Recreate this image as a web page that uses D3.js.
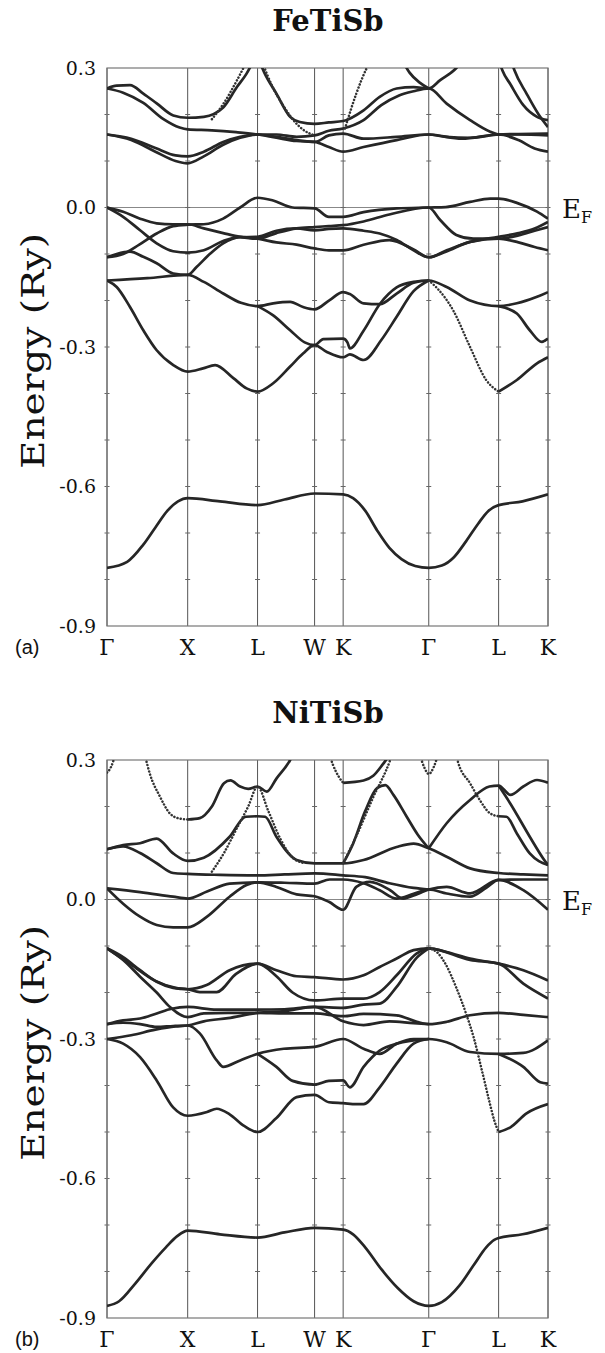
<!DOCTYPE html>
<html><head><meta charset="utf-8">
<script src="https://cdn.jsdelivr.net/npm/d3@7/dist/d3.min.js"></script>
<style>body{margin:0;background:#fff}</style>
</head><body>
<svg id="c" width="605" height="1353"></svg>
<script>
// ---------- axis data ----------
const kTicks = [0, 1, 1.866, 2.573, 2.927, 3.988, 4.854, 5.466];
const kLabels = ["Γ","X","L","W","K","Γ","L","K"];
const eTicks = [0.3, 0.0, -0.3, -0.6, -0.9];
const eTickLabels = ["0.3","0.0","-0.3","-0.6","-0.9"];
const minorTicks = [-0.8,-0.7,-0.6,-0.5,-0.4,-0.3,-0.2,-0.1,0.0,0.1,0.2];
const panelTitles = ["FeTiSb","NiTiSb"];
const panelTags = ["(a)","(b)"];

// ---------- FeTiSb bands [k, E(Ry)] ----------
const feSolid = [
 [[0,-0.775],[0.25,-0.762],[0.45,-0.725],[0.6,-0.688],[0.75,-0.652],[0.88,-0.632],[1,-0.625],[1.4,-0.632],[1.866,-0.64],[2.2,-0.628],[2.573,-0.615],[2.927,-0.617],[3.05,-0.625],[3.2,-0.652],[3.35,-0.695],[3.5,-0.732],[3.65,-0.756],[3.82,-0.771],[3.988,-0.775],[4.15,-0.77],[4.3,-0.752],[4.45,-0.718],[4.6,-0.68],[4.73,-0.652],[4.854,-0.64],[5.15,-0.632],[5.466,-0.617]],
 [[0,-0.157],[0.12,-0.171],[0.285,-0.214],[0.45,-0.264],[0.616,-0.307],[0.822,-0.339],[1,-0.353],[1.19,-0.346],[1.34,-0.339],[1.566,-0.367],[1.73,-0.389],[1.866,-0.396],[2.06,-0.378],[2.27,-0.342],[2.43,-0.314],[2.573,-0.296],[2.72,-0.31],[2.927,-0.322],[3.01,-0.316],[3.18,-0.328],[3.4,-0.285],[3.59,-0.235],[3.8,-0.18],[3.988,-0.157]],
 [[4.854,-0.396],[5.08,-0.371],[5.33,-0.335],[5.466,-0.322]],
 [[0,-0.157],[0.5,-0.152],[1,-0.145],[1.2,-0.16],[1.44,-0.185],[1.66,-0.205],[1.866,-0.212],[2.06,-0.206],[2.27,-0.203],[2.43,-0.214],[2.573,-0.219],[2.76,-0.199],[2.927,-0.182],[3.01,-0.186],[3.18,-0.206],[3.38,-0.208],[3.59,-0.185],[3.8,-0.162],[3.988,-0.157],[4.21,-0.171],[4.5,-0.2],[4.854,-0.212],[5.08,-0.206],[5.33,-0.192],[5.466,-0.182]],
 [[1.866,-0.212],[2.06,-0.232],[2.27,-0.264],[2.45,-0.29],[2.573,-0.296],[2.68,-0.283],[2.927,-0.282],[2.98,-0.29],[3.01,-0.303],[3.18,-0.265],[3.38,-0.208],[3.59,-0.172],[3.8,-0.16],[3.988,-0.157]],
 [[4.854,-0.212],[5.08,-0.228],[5.24,-0.264],[5.39,-0.289],[5.43,-0.286],[5.466,-0.282]],
 [[0,-0.107],[0.12,-0.1],[0.285,-0.095],[0.45,-0.106],[0.616,-0.12],[0.822,-0.142],[1,-0.145],[1.11,-0.128],[1.28,-0.099],[1.44,-0.077],[1.65,-0.064],[1.866,-0.063],[2.1,-0.05],[2.35,-0.045],[2.573,-0.049],[2.75,-0.046],[2.927,-0.045],[3.18,-0.05],[3.38,-0.056],[3.59,-0.07],[3.8,-0.092],[3.988,-0.107],[4.21,-0.092],[4.5,-0.074],[4.854,-0.063],[5.1,-0.055],[5.3,-0.045],[5.466,-0.031]],
 [[0,-0.107],[0.2,-0.1],[0.4,-0.08],[0.616,-0.056],[0.82,-0.04],[1,-0.037],[1.2,-0.036],[1.44,-0.024],[1.65,0.0],[1.866,0.021],[2.06,0.015],[2.3,0.0],[2.573,-0.002],[2.75,-0.02],[2.927,-0.02],[3.18,-0.01],[3.59,-0.002],[3.988,0.0],[4.2,0.001],[4.5,0.012],[4.75,0.019],[4.854,0.019],[5.08,0.01],[5.33,-0.009],[5.466,-0.024]],
 [[0,0],[0.2,-0.02],[0.41,-0.049],[0.616,-0.077],[0.82,-0.094],[1,-0.097],[1.2,-0.092],[1.44,-0.072],[1.65,-0.063],[1.866,-0.067],[2.1,-0.075],[2.35,-0.08],[2.573,-0.088],[2.75,-0.092],[2.927,-0.092],[3.18,-0.08],[3.5,-0.07],[3.8,-0.09],[3.988,-0.107],[4.2,-0.095],[4.5,-0.074],[4.854,-0.067],[5.1,-0.075],[5.3,-0.085],[5.466,-0.092]],
 [[0,0],[0.2,-0.009],[0.41,-0.024],[0.616,-0.034],[0.82,-0.036],[1,-0.036],[1.2,-0.045],[1.44,-0.055],[1.65,-0.063],[1.866,-0.067],[2.1,-0.055],[2.35,-0.045],[2.573,-0.042],[2.75,-0.04],[2.927,-0.038],[3.18,-0.03],[3.5,-0.015],[3.988,0],[4.13,-0.027],[4.33,-0.059],[4.54,-0.067],[4.854,-0.067],[5.1,-0.06],[5.3,-0.05],[5.466,-0.042]],
 [[0,0.256],[0.12,0.262],[0.285,0.263],[0.45,0.245],[0.616,0.224],[0.822,0.198],[1,0.193],[1.2,0.195],[1.44,0.215],[1.61,0.259],[1.73,0.288],[1.8,0.31]],
 [[0,0.256],[0.2,0.247],[0.45,0.225],[0.7,0.19],[0.9,0.172],[1,0.168],[1.3,0.166],[1.6,0.162],[1.866,0.157],[2.1,0.15],[2.35,0.143],[2.573,0.141],[2.75,0.13],[2.927,0.12],[3.18,0.13],[3.59,0.145],[3.988,0.157],[4.4,0.148],[4.854,0.157],[5.1,0.145],[5.3,0.127],[5.466,0.12]],
 [[0,0.157],[0.3,0.148],[0.6,0.128],[0.85,0.112],[1,0.11],[1.2,0.12],[1.44,0.141],[1.65,0.152],[1.866,0.157],[2.1,0.157],[2.35,0.152],[2.573,0.155],[2.75,0.165],[2.927,0.17],[3.18,0.188],[3.4,0.22],[3.62,0.241],[3.8,0.25],[3.988,0.256],[4.21,0.2235],[4.5,0.188],[4.75,0.163],[4.854,0.157],[5.1,0.157],[5.466,0.155]],
 [[0,0.157],[0.3,0.145],[0.6,0.12],[0.85,0.1],[1,0.095],[1.2,0.11],[1.44,0.135],[1.65,0.15],[1.866,0.157],[2.1,0.152],[2.35,0.145],[2.573,0.141],[2.75,0.155],[2.927,0.159],[3.18,0.148],[3.59,0.152],[3.988,0.157],[4.2,0.152],[4.5,0.15],[4.854,0.157],[5.1,0.158],[5.466,0.159]],
 [[1.9,0.31],[1.95,0.29],[2.1,0.245],[2.27,0.195],[2.39,0.184],[2.573,0.18],[2.75,0.183],[2.927,0.186],[3.18,0.209],[3.38,0.238],[3.59,0.256],[3.8,0.259],[3.988,0.256],[4.13,0.274],[4.33,0.3],[4.38,0.31]],
 [[3.68,0.31],[3.75,0.29],[3.88,0.268],[3.988,0.256]],
 [[4.87,0.31],[4.9,0.295],[5.0,0.265],[5.16,0.22],[5.33,0.195],[5.466,0.188]],
 [[5.02,0.31],[5.05,0.295],[5.2,0.245],[5.35,0.2],[5.466,0.173]]
];
const feDotted = [
 [[3.988,-0.157],[4.1,-0.175],[4.29,-0.221],[4.5,-0.3],[4.7,-0.371],[4.854,-0.396]],
 [[1.3,0.19],[1.45,0.225],[1.6,0.27],[1.72,0.31]],
 [[1.93,0.31],[2.05,0.26],[2.2,0.215],[2.35,0.18],[2.45,0.165],[2.573,0.155]],
 [[2.95,0.17],[3.09,0.245],[3.22,0.3],[3.25,0.31]]
];

// ---------- NiTiSb bands [k, E(Ry)] ----------
const niSolid = [
 [[0,-0.874],[0.15,-0.864],[0.35,-0.826],[0.55,-0.783],[0.73,-0.748],[0.87,-0.724],[1,-0.712],[1.4,-0.72],[1.866,-0.727],[2.2,-0.716],[2.573,-0.706],[2.927,-0.71],[3.05,-0.72],[3.2,-0.748],[3.4,-0.795],[3.6,-0.835],[3.8,-0.864],[3.988,-0.874],[4.15,-0.866],[4.37,-0.83],[4.55,-0.785],[4.7,-0.748],[4.8,-0.732],[4.854,-0.728],[5.15,-0.72],[5.466,-0.706]],
 [[0,-0.105],[0.2,-0.124],[0.41,-0.152],[0.616,-0.177],[0.82,-0.19],[1,-0.193],[1.235,-0.184],[1.52,-0.152],[1.866,-0.138],[2.1,-0.152],[2.35,-0.165],[2.573,-0.167],[2.927,-0.172],[3.18,-0.163],[3.38,-0.145],[3.59,-0.127],[3.8,-0.109],[3.988,-0.105],[4.21,-0.113],[4.5,-0.127],[4.854,-0.138],[5.16,-0.152],[5.466,-0.174]],
 [[0,-0.105],[0.3,-0.14],[0.6,-0.175],[0.85,-0.19],[1,-0.193],[1.15,-0.199],[1.36,-0.199],[1.6,-0.16],[1.866,-0.138],[2.1,-0.165],[2.3,-0.2],[2.573,-0.217],[2.927,-0.213],[3.18,-0.213],[3.38,-0.199],[3.59,-0.163],[3.84,-0.116],[3.988,-0.105],[4.5,-0.13],[4.854,-0.138],[5.16,-0.181],[5.466,-0.213]],
 [[0,-0.105],[0.2,-0.13],[0.41,-0.166],[0.616,-0.2],[0.78,-0.231],[1,-0.253],[1.2,-0.245],[1.5,-0.244],[1.866,-0.244],[2.2,-0.245],[2.573,-0.245],[2.927,-0.251],[3.18,-0.246],[3.59,-0.249],[3.84,-0.263],[3.988,-0.268],[4.21,-0.263],[4.5,-0.249],[4.854,-0.244],[5.16,-0.248],[5.466,-0.253]],
 [[0,-0.268],[0.2,-0.26],[0.41,-0.256],[0.616,-0.245],[0.8,-0.235],[1,-0.231],[1.36,-0.237],[1.866,-0.237],[2.2,-0.236],[2.573,-0.231],[2.927,-0.233],[3.18,-0.226],[3.38,-0.224],[3.59,-0.188],[3.84,-0.125],[3.988,-0.105]],
 [[0,-0.268],[0.2,-0.265],[0.41,-0.268],[0.616,-0.274],[0.82,-0.272],[1,-0.271],[1.15,-0.288],[1.36,-0.346],[1.44,-0.36],[1.65,-0.346],[1.866,-0.332],[2.19,-0.321],[2.573,-0.317],[2.927,-0.3],[3.18,-0.321],[3.38,-0.332],[3.59,-0.31],[3.8,-0.3],[3.988,-0.3],[4.21,-0.307],[4.5,-0.328],[4.854,-0.332],[5.16,-0.33],[5.466,-0.303]],
 [[0,-0.3],[0.2,-0.31],[0.41,-0.339],[0.616,-0.389],[0.82,-0.447],[1,-0.465],[1.24,-0.457],[1.36,-0.45],[1.52,-0.462],[1.7,-0.487],[1.866,-0.5],[2.1,-0.47],[2.35,-0.425],[2.573,-0.42],[2.75,-0.436],[2.927,-0.438],[3.09,-0.44],[3.18,-0.44],[3.38,-0.404],[3.59,-0.353],[3.8,-0.31],[3.988,-0.3]],
 [[0,-0.3],[0.3,-0.292],[0.6,-0.28],[0.85,-0.273],[1,-0.271],[1.2,-0.262],[1.5,-0.255],[1.866,-0.244],[2.2,-0.24],[2.573,-0.231],[2.927,-0.262],[3.18,-0.27],[3.5,-0.262],[3.8,-0.266],[3.988,-0.268]],
 [[1.866,-0.332],[2.1,-0.36],[2.3,-0.39],[2.573,-0.398],[2.75,-0.39],[2.927,-0.389],[3.01,-0.404],[3.18,-0.36],[3.38,-0.325],[3.59,-0.31],[3.988,-0.3]],
 [[4.854,-0.332],[5.16,-0.36],[5.37,-0.393],[5.466,-0.396]],
 [[4.854,-0.5],[5.0,-0.49],[5.2,-0.46],[5.466,-0.44]],
 [[0,0.024],[0.41,0.016],[0.82,0.006],[1,0.002],[1.24,0.017],[1.52,0.034],[1.866,0.037],[2.1,0.027],[2.35,0.011],[2.573,0.007],[2.75,-0.005],[2.927,-0.022],[3.09,0.027],[3.26,0.038],[3.51,0.02],[3.67,0.002],[3.85,0.012],[3.988,0.0215],[4.21,0.027],[4.5,0.013],[4.854,0.042],[5.16,0.02],[5.466,-0.022]],
 [[0,0.024],[0.2,-0.009],[0.41,-0.037],[0.616,-0.055],[0.82,-0.06],[1,-0.06],[1.24,-0.037],[1.52,0.006],[1.73,0.031],[1.866,0.037],[2.2,0.036],[2.573,0.034],[2.76,0.043],[2.927,0.043],[3.18,0.035],[3.38,0.02],[3.59,0.002],[3.8,0.012],[3.988,0.0215],[4.21,0.013],[4.5,0.006],[4.7,0.025],[4.854,0.042],[5.16,0.043],[5.466,0.043]],
 [[0,0.108],[0.2,0.117],[0.41,0.121],[0.616,0.131],[0.82,0.099],[1,0.083],[1.2,0.09],[1.52,0.135],[1.72,0.178],[1.866,0.179],[1.96,0.178],[2.1,0.135],[2.35,0.085],[2.573,0.0775],[2.927,0.0775],[3.18,0.085],[3.59,0.113],[3.8,0.12],[3.988,0.11],[4.21,0.092],[4.5,0.067],[4.854,0.057],[5.16,0.054],[5.466,0.052]],
 [[0,0.108],[0.2,0.114],[0.41,0.1],[0.616,0.078],[0.82,0.057],[1,0.055],[1.4,0.053],[1.866,0.052],[2.2,0.054],[2.573,0.056],[2.927,0.052],[3.2,0.048],[3.5,0.035],[3.8,0.025],[3.988,0.0215]],
 [[1,0.172],[1.15,0.175],[1.3,0.2],[1.45,0.25],[1.53,0.256],[1.65,0.243],[1.75,0.238],[1.866,0.243],[1.98,0.232],[2.1,0.26],[2.27,0.3],[2.3,0.31]],
 [[2.927,0.251],[3.18,0.256],[3.3,0.266],[3.42,0.291],[3.5,0.31]],
 [[2.927,0.0775],[3.05,0.12],[3.2,0.19],[3.35,0.24],[3.45,0.246],[3.55,0.225],[3.715,0.178],[3.85,0.14],[3.988,0.11]],
 [[3.988,0.11],[4.21,0.164],[4.5,0.214],[4.74,0.243],[4.854,0.245],[5.0,0.225],[5.16,0.243],[5.33,0.257],[5.466,0.251]],
 [[4.854,0.179],[4.95,0.178],[5.08,0.142],[5.24,0.099],[5.466,0.074]],
 [[4.854,0.245],[5.0,0.206],[5.24,0.135],[5.4,0.09],[5.466,0.074]]
];
const niDotted = [
 [[3.988,-0.105],[4.1,-0.115],[4.2,-0.14],[4.33,-0.19],[4.45,-0.245],[4.55,-0.3],[4.65,-0.37],[4.74,-0.435],[4.8,-0.475],[4.854,-0.5]],
 [[0.47,0.31],[0.53,0.271],[0.657,0.221],[0.78,0.185],[0.9,0.174],[1,0.172]],
 [[1.3,0.06],[1.45,0.1],[1.6,0.15],[1.75,0.2],[1.866,0.243],[2.0,0.19],[2.15,0.13],[2.3,0.09],[2.45,0.078]],
 [[0,0.273],[0.05,0.285],[0.1,0.31]],
 [[2.76,0.31],[2.8,0.29],[2.88,0.262],[2.927,0.251]],
 [[2.927,0.078],[3.1,0.14],[3.3,0.22],[3.51,0.3],[3.53,0.31]],
 [[4.33,0.31],[4.35,0.296],[4.5,0.25],[4.62,0.214],[4.75,0.185],[4.854,0.179]],
 [[3.88,0.31],[3.93,0.285],[3.988,0.27],[4.05,0.285],[4.1,0.31]]
];

// ---------- drawing ----------
const svg = d3.select("#c");
const serif = "'DejaVu Serif', serif";
const x = d3.scaleLinear().domain([kTicks[0], kTicks[kTicks.length-1]]).range([107, 548]);

function drawPanel(idx, top, bottom, solid, dotted) {
  const y = d3.scaleLinear().domain([-0.9, 0.3]).range([bottom, top]);
  const g = svg.append("g");
  const cid = "clip" + idx;
  g.append("clipPath").attr("id", cid).append("rect")
    .attr("x", x.range()[0]).attr("y", top).attr("width", x.range()[1]-x.range()[0]).attr("height", bottom-top);

  g.append("text").attr("x", 328).attr("y", top - 37).attr("text-anchor","middle")
    .attr("font-family", serif).attr("font-weight","bold").attr("font-size", 29).attr("fill","#111")
    .text(panelTitles[idx]);

  g.append("line").attr("x1", x.range()[0]).attr("x2", x.range()[1]).attr("y1", y(0)).attr("y2", y(0))
    .attr("stroke","#888").attr("stroke-width",1);

  g.selectAll(".vl").data(kTicks).enter().append("line")
    .attr("x1", d => x(d)).attr("x2", d => x(d)).attr("y1", top).attr("y2", bottom)
    .attr("stroke","#555").attr("stroke-width",1);

  kTicks.forEach(k => {
    g.selectAll(null).data(minorTicks).enter().append("line")
      .attr("x1", x(k) - 2.5).attr("x2", x(k) + 2.5).attr("y1", d => y(d)).attr("y2", d => y(d))
      .attr("stroke","#666").attr("stroke-width",1);
  });

  g.append("rect").attr("x", x.range()[0]).attr("y", top).attr("width", x.range()[1]-x.range()[0]).attr("height", bottom-top)
    .attr("fill","none").attr("stroke","#777").attr("stroke-width",1.2);

  const line = d3.line().x(d => x(d[0])).y(d => y(d[1])).curve(d3.curveMonotoneX);
  const bg = g.append("g").attr("clip-path", `url(#${cid})`);
  bg.selectAll(".band").data(solid).enter().append("path")
    .attr("d", line).attr("fill","none").attr("stroke","#262626").attr("stroke-width",2.7)
    .attr("stroke-linejoin","round");
  bg.selectAll(".dband").data(dotted).enter().append("path")
    .attr("d", line).attr("fill","none").attr("stroke","#333").attr("stroke-width",2.5)
    .attr("stroke-dasharray","0.1 3.2").attr("stroke-linecap","round");

  g.selectAll(".yl").data(eTicks).enter().append("text")
    .attr("x", 96).attr("y", d => y(d)).attr("dy","0.36em").attr("text-anchor","end")
    .attr("font-family", serif).attr("font-size", 19).attr("fill","#111")
    .text((d,i) => eTickLabels[i]);

  g.selectAll(".kl").data(kTicks).enter().append("text")
    .attr("x", d => x(d)).attr("y", bottom + 29).attr("text-anchor","middle")
    .attr("font-family", serif).attr("font-size", 22).attr("fill","#111")
    .text((d,i) => kLabels[i]);

  g.append("text").attr("x", 15).attr("y", bottom + 28)
    .attr("font-family","'Liberation Sans', Arial, sans-serif").attr("font-size", 20).attr("fill","#111")
    .text(panelTags[idx]);

  g.append("text").attr("transform", `translate(33,${(top+bottom)/2 + 4}) rotate(-90)`)
    .attr("text-anchor","middle").attr("dominant-baseline","central")
    .attr("font-family", serif).attr("font-size", 31).attr("fill","#111")
    .attr("textLength", 236).attr("lengthAdjust","spacingAndGlyphs")
    .text("Energy (Ry)");

  const ef = g.append("text").attr("x", 562).attr("y", y(0) + 10)
    .attr("font-family", serif).attr("font-size", 26).attr("fill","#111");
  ef.append("tspan").text("E");
  ef.append("tspan").attr("font-size", 16).attr("dy", 5).text("F");
}

drawPanel(0, 68, 626, feSolid, feDotted);
drawPanel(1, 760, 1318, niSolid, niDotted);
</script>
</body></html>
